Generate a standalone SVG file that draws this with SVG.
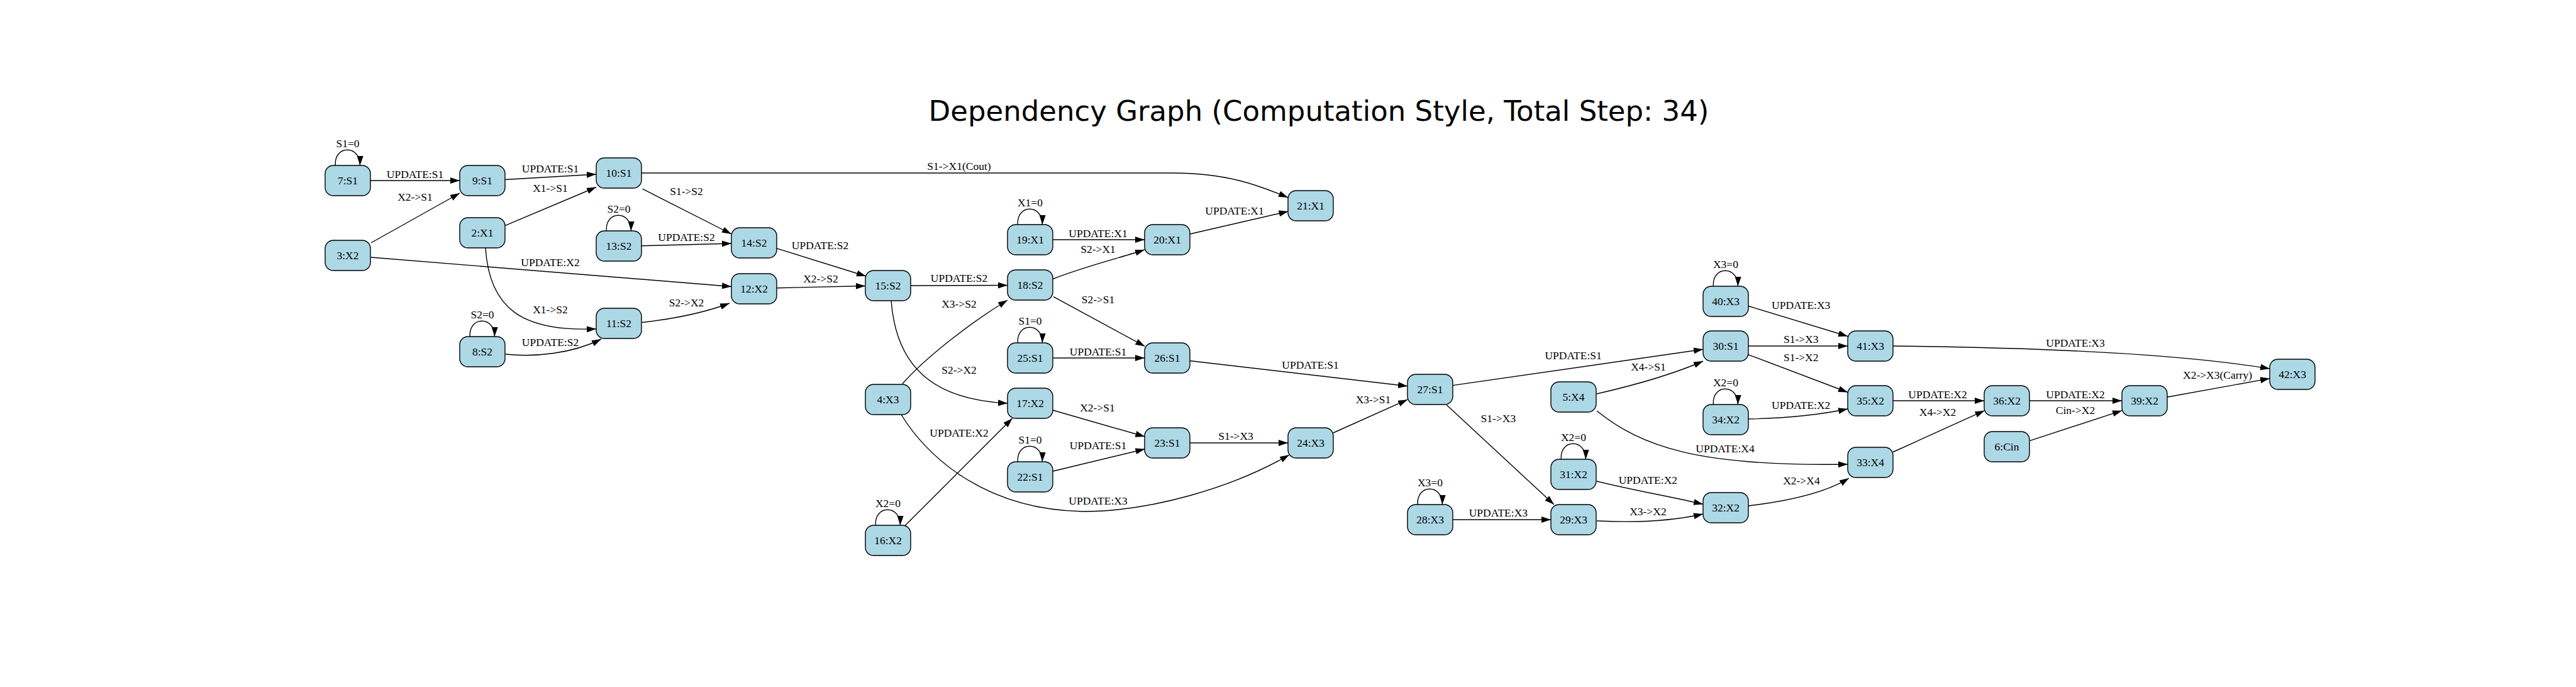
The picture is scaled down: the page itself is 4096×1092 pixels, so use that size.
<svg xmlns="http://www.w3.org/2000/svg" width="4096" height="1092" viewBox="0 0 4096 1092">
<style>
.node rect{fill:#add8e6;stroke:#000;stroke-width:1.4}
.node text,.lbl{font-family:"Liberation Serif","Times New Roman",serif;font-size:17.5px;text-anchor:middle;fill:#000}
.e{fill:none;stroke:#000;stroke-width:1.4;marker-end:url(#arr)}
.title{font-family:"DejaVu Sans",sans-serif;font-size:45px;text-anchor:middle;fill:#000}
</style>
<defs>
<marker id="arr" viewBox="0 0 15 10" refX="15" refY="5" markerWidth="15" markerHeight="10" markerUnits="userSpaceOnUse" orient="auto"><path d="M0,0 L15,5 L0,10 z" fill="#000"/></marker>
</defs>
<rect width="4096" height="1092" fill="#fff"/>
<text class="title" x="2097" y="192">Dependency Graph (Computation Style, Total Step: 34)</text>
<g id="connectors">
<g><path class="e" d="M589,287 L731,287"/><text class="lbl" x="660" y="283">UPDATE:S1</text></g>
<g><path class="e" d="M590,386 L731,307"/><text class="lbl" x="660" y="319">X2-&gt;S1</text></g>
<g><path class="e" d="M803,285.5 L948,277"/><text class="lbl" x="875" y="274">UPDATE:S1</text></g>
<g><path class="e" d="M803,358.6 L948,297.5"/><text class="lbl" x="875" y="305">X1-&gt;S1</text></g>
<g><path class="e" d="M1020,275 L1865,275 C1950,275 2000,294 2048,314"/><text class="lbl" x="1525" y="270">S1-&gt;X1(Cout)</text></g>
<g><path class="e" d="M1021.6,300.2 C1070,325 1120,350 1163,372"/><text class="lbl" x="1091.5" y="309.6">S1-&gt;S2</text></g>
<g><path class="e" d="M1020,390.7 L1163,387"/><text class="lbl" x="1091.5" y="382.7">UPDATE:S2</text></g>
<g><path class="e" d="M590,409 L1163,455.5"/><text class="lbl" x="875" y="422.8">UPDATE:X2</text></g>
<g><path class="e" d="M772,394 C778,490 830,528 948,522.7"/><text class="lbl" x="875" y="498">X1-&gt;S2</text></g>
<g><path class="e" d="M804,563 C850,568 910,562 956,539"/><text class="lbl" x="875" y="550">UPDATE:S2</text></g>
<g><path class="e" d="M1021,512.5 C1070,507 1120,497 1160,482"/><text class="lbl" x="1091.5" y="486.8">S2-&gt;X2</text></g>
<g><path class="e" d="M1235,394.8 L1377,439"/><text class="lbl" x="1304" y="396.3">UPDATE:S2</text></g>
<g><path class="e" d="M1235,457.7 L1376,454.5"/><text class="lbl" x="1305" y="449">X2-&gt;S2</text></g>
<g><path class="e" d="M1448,454 L1602,453.5"/><text class="lbl" x="1525" y="448.3">UPDATE:S2</text></g>
<g><path class="e" d="M1435,610 C1470,570 1540,515 1602,477"/><text class="lbl" x="1525" y="489">X3-&gt;S2</text></g>
<g><path class="e" d="M1417,478 C1425,580 1480,635 1602,641"/><text class="lbl" x="1525" y="594">S2-&gt;X2</text></g>
<g><path class="e" d="M1439,835.6 L1609.6,665"/><text class="lbl" x="1525" y="694">UPDATE:X2</text></g>
<g><path class="e" d="M1433,659 C1470,720 1560,810 1722,813 C1830,813 1960,775 2050,723"/><text class="lbl" x="1746" y="802">UPDATE:X3</text></g>
<g><path class="e" d="M1674,443.5 C1720,425 1780,410 1820,397"/><text class="lbl" x="1746" y="402">S2-&gt;X1</text></g>
<g><path class="e" d="M1674,381 L1820,381"/><text class="lbl" x="1746" y="377">UPDATE:X1</text></g>
<g><path class="e" d="M1892,372 L2048.5,336"/><text class="lbl" x="1963" y="341">UPDATE:X1</text></g>
<g><path class="e" d="M1675,471.7 L1820.4,550.4"/><text class="lbl" x="1746" y="482">S2-&gt;S1</text></g>
<g><path class="e" d="M1674,569 L1820,569"/><text class="lbl" x="1746" y="565">UPDATE:S1</text></g>
<g><path class="e" d="M1892,573.5 L2238,613.8"/><text class="lbl" x="2083.5" y="585.6">UPDATE:S1</text></g>
<g><path class="e" d="M1674,652 L1820.4,694"/><text class="lbl" x="1745" y="654">X2-&gt;S1</text></g>
<g><path class="e" d="M1674,749 L1820.4,713.7"/><text class="lbl" x="1746" y="714">UPDATE:S1</text></g>
<g><path class="e" d="M1892,704 L2048,704"/><text class="lbl" x="1965" y="699">S1-&gt;X3</text></g>
<g><path class="e" d="M2120,688 L2238,635.2"/><text class="lbl" x="2183.5" y="641">X3-&gt;S1</text></g>
<g><path class="e" d="M2309.6,612.6 L2708,555.3"/><text class="lbl" x="2501.6" y="571">UPDATE:S1</text></g>
<g><path class="e" d="M2539,626 C2600,612 2660,595 2708,574"/><text class="lbl" x="2621" y="589">X4-&gt;S1</text></g>
<g><path class="e" d="M2300,643.5 L2471,802"/><text class="lbl" x="2382.4" y="671">S1-&gt;X3</text></g>
<g><path class="e" d="M2310,826 L2466,826"/><text class="lbl" x="2382.4" y="821">UPDATE:X3</text></g>
<g><path class="e" d="M2539,653 C2610,710 2700,742 2938,738"/><text class="lbl" x="2743" y="718.5">UPDATE:X4</text></g>
<g><path class="e" d="M2539,765 C2600,780 2660,790 2708,801.5"/><text class="lbl" x="2620.4" y="769">UPDATE:X2</text></g>
<g><path class="e" d="M2539,828 C2600,831 2660,828 2708,817"/><text class="lbl" x="2620.4" y="819">X3-&gt;X2</text></g>
<g><path class="e" d="M2780,804 C2840,797 2900,785 2940,760"/><text class="lbl" x="2864.4" y="769.7">X2-&gt;X4</text></g>
<g><path class="e" d="M2780,486.5 C2840,505 2890,520 2938,534.5"/><text class="lbl" x="2863.7" y="491">UPDATE:X3</text></g>
<g><path class="e" d="M2780,550 L2938,550"/><text class="lbl" x="2863.7" y="545">S1-&gt;X3</text></g>
<g><path class="e" d="M2780,563.8 L2938,623.5"/><text class="lbl" x="2863.7" y="574">S1-&gt;X2</text></g>
<g><path class="e" d="M2780,666 C2830,665 2890,660 2938,650"/><text class="lbl" x="2863.7" y="650">UPDATE:X2</text></g>
<g><path class="e" d="M3010,637 L3155,637"/><text class="lbl" x="3081" y="633">UPDATE:X2</text></g>
<g><path class="e" d="M3010,718.5 L3155.5,652.7"/><text class="lbl" x="3081" y="661">X4-&gt;X2</text></g>
<g><path class="e" d="M3010,550 C3200,552 3450,560 3609,586"/><text class="lbl" x="3300" y="551">UPDATE:X3</text></g>
<g><path class="e" d="M3227,637 L3374,637"/><text class="lbl" x="3300" y="633">UPDATE:X2</text></g>
<g><path class="e" d="M3228,700.3 L3374,652.7"/><text class="lbl" x="3300" y="658">Cin-&gt;X2</text></g>
<g><path class="e" d="M3445.5,631.3 L3609,601.6"/><text class="lbl" x="3526" y="601.5">X2-&gt;X3(Carry)</text></g>
<g><path class="e" d="M533.3,263 C531,230 573,230 572.4,263"/><text class="lbl" x="553" y="234.4">S1=0</text></g>
<g><path class="e" d="M964.3,367 C962,334 1004,334 1003.4,367"/><text class="lbl" x="984" y="338.4">S2=0</text></g>
<g><path class="e" d="M747.3,535 C745,502 787,502 786.4,535"/><text class="lbl" x="767" y="506.4">S2=0</text></g>
<g><path class="e" d="M1618.3,357 C1616,324 1658,324 1657.4,357"/><text class="lbl" x="1638" y="328.4">X1=0</text></g>
<g><path class="e" d="M1618.3,545 C1616,512 1658,512 1657.4,545"/><text class="lbl" x="1638" y="516.4">S1=0</text></g>
<g><path class="e" d="M1618.3,734 C1616,701 1658,701 1657.4,734"/><text class="lbl" x="1638" y="705.4">S1=0</text></g>
<g><path class="e" d="M1392.3,835 C1390,802 1432,802 1431.4,835"/><text class="lbl" x="1412" y="806.4">X2=0</text></g>
<g><path class="e" d="M2482.3,730 C2480,697 2522,697 2521.4,730"/><text class="lbl" x="2502" y="701.4">X2=0</text></g>
<g><path class="e" d="M2254.3,802 C2252,769 2294,769 2293.4,802"/><text class="lbl" x="2274" y="773.4">X3=0</text></g>
<g><path class="e" d="M2724.3,455 C2722,422 2764,422 2763.4,455"/><text class="lbl" x="2744" y="426.4">X3=0</text></g>
<g><path class="e" d="M2724.3,643 C2722,610 2764,610 2763.4,643"/><text class="lbl" x="2744" y="614.4">X2=0</text></g>
</g>
<g id="n7" class="node"><rect x="517" y="263" width="72" height="48" rx="13"/><text x="553" y="293">7:S1</text></g>
<g id="n9" class="node"><rect x="731" y="263" width="72" height="48" rx="13"/><text x="767" y="293">9:S1</text></g>
<g id="n10" class="node"><rect x="948" y="251" width="72" height="48" rx="13"/><text x="984" y="281">10:S1</text></g>
<g id="n2" class="node"><rect x="731" y="346" width="72" height="48" rx="13"/><text x="767" y="376">2:X1</text></g>
<g id="n3" class="node"><rect x="517" y="382" width="72" height="48" rx="13"/><text x="553" y="412">3:X2</text></g>
<g id="n13" class="node"><rect x="948" y="367" width="72" height="48" rx="13"/><text x="984" y="397">13:S2</text></g>
<g id="n11" class="node"><rect x="948" y="490" width="72" height="48" rx="13"/><text x="984" y="520">11:S2</text></g>
<g id="n8" class="node"><rect x="731" y="535" width="72" height="48" rx="13"/><text x="767" y="565">8:S2</text></g>
<g id="n14" class="node"><rect x="1163" y="362" width="72" height="48" rx="13"/><text x="1199" y="392">14:S2</text></g>
<g id="n12" class="node"><rect x="1163" y="435" width="72" height="48" rx="13"/><text x="1199" y="465">12:X2</text></g>
<g id="n15" class="node"><rect x="1376" y="430" width="72" height="48" rx="13"/><text x="1412" y="460">15:S2</text></g>
<g id="n18" class="node"><rect x="1602" y="429" width="72" height="48" rx="13"/><text x="1638" y="459">18:S2</text></g>
<g id="n19" class="node"><rect x="1602" y="357" width="72" height="48" rx="13"/><text x="1638" y="387">19:X1</text></g>
<g id="n20" class="node"><rect x="1820" y="357" width="72" height="48" rx="13"/><text x="1856" y="387">20:X1</text></g>
<g id="n21" class="node"><rect x="2048" y="303" width="72" height="48" rx="13"/><text x="2084" y="333">21:X1</text></g>
<g id="n25" class="node"><rect x="1602" y="545" width="72" height="48" rx="13"/><text x="1638" y="575">25:S1</text></g>
<g id="n26" class="node"><rect x="1820" y="545" width="72" height="48" rx="13"/><text x="1856" y="575">26:S1</text></g>
<g id="n17" class="node"><rect x="1602" y="617" width="72" height="48" rx="13"/><text x="1638" y="647">17:X2</text></g>
<g id="n23" class="node"><rect x="1820" y="680" width="72" height="48" rx="13"/><text x="1856" y="710">23:S1</text></g>
<g id="n24" class="node"><rect x="2048" y="680" width="72" height="48" rx="13"/><text x="2084" y="710">24:X3</text></g>
<g id="n22" class="node"><rect x="1602" y="734" width="72" height="48" rx="13"/><text x="1638" y="764">22:S1</text></g>
<g id="n4" class="node"><rect x="1376" y="611" width="72" height="48" rx="13"/><text x="1412" y="641">4:X3</text></g>
<g id="n16" class="node"><rect x="1376" y="835" width="72" height="48" rx="13"/><text x="1412" y="865">16:X2</text></g>
<g id="n27" class="node"><rect x="2238" y="595" width="72" height="48" rx="13"/><text x="2274" y="625">27:S1</text></g>
<g id="n5" class="node"><rect x="2466" y="607" width="72" height="48" rx="13"/><text x="2502" y="637">5:X4</text></g>
<g id="n31" class="node"><rect x="2466" y="730" width="72" height="48" rx="13"/><text x="2502" y="760">31:X2</text></g>
<g id="n28" class="node"><rect x="2238" y="802" width="72" height="48" rx="13"/><text x="2274" y="832">28:X3</text></g>
<g id="n29" class="node"><rect x="2466" y="802" width="72" height="48" rx="13"/><text x="2502" y="832">29:X3</text></g>
<g id="n30" class="node"><rect x="2708" y="526" width="72" height="48" rx="13"/><text x="2744" y="556">30:S1</text></g>
<g id="n41" class="node"><rect x="2938" y="526" width="72" height="48" rx="13"/><text x="2974" y="556">41:X3</text></g>
<g id="n35" class="node"><rect x="2938" y="613" width="72" height="48" rx="13"/><text x="2974" y="643">35:X2</text></g>
<g id="n36" class="node"><rect x="3155" y="613" width="72" height="48" rx="13"/><text x="3191" y="643">36:X2</text></g>
<g id="n34" class="node"><rect x="2708" y="643" width="72" height="48" rx="13"/><text x="2744" y="673">34:X2</text></g>
<g id="n6" class="node"><rect x="3155" y="686" width="72" height="48" rx="13"/><text x="3191" y="716">6:Cin</text></g>
<g id="n33" class="node"><rect x="2938" y="711" width="72" height="48" rx="13"/><text x="2974" y="741">33:X4</text></g>
<g id="n32" class="node"><rect x="2708" y="783" width="72" height="48" rx="13"/><text x="2744" y="813">32:X2</text></g>
<g id="n40" class="node"><rect x="2708" y="455" width="72" height="48" rx="13"/><text x="2744" y="485">40:X3</text></g>
<g id="n39" class="node"><rect x="3374" y="613" width="72" height="48" rx="13"/><text x="3410" y="643">39:X2</text></g>
<g id="n42" class="node"><rect x="3609" y="571" width="72" height="48" rx="13"/><text x="3645" y="601">42:X3</text></g>
</svg>
